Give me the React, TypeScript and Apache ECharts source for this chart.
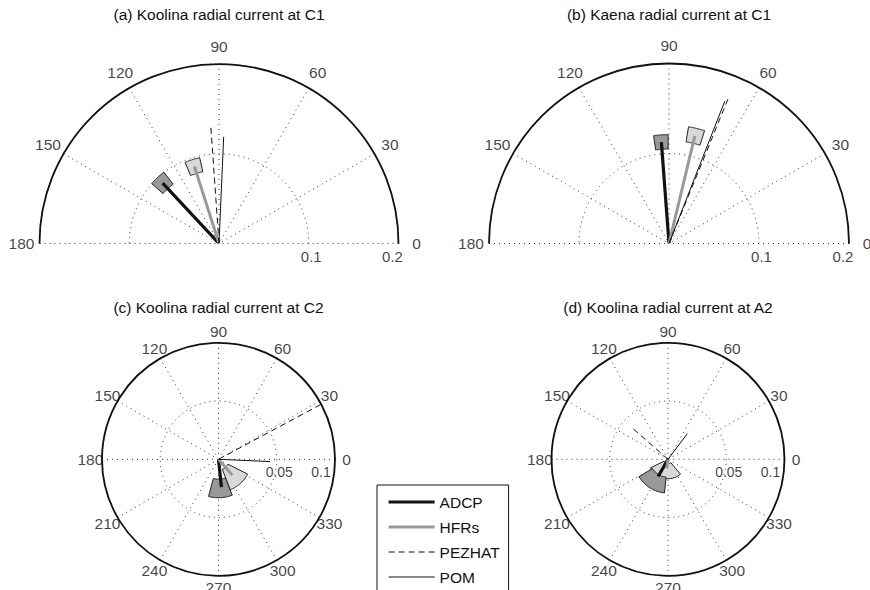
import React, { useEffect, useRef } from 'react';
import * as echarts from 'echarts';

const FONT = "'Liberation Sans', Arial, Helvetica, sans-serif";

// ---- data ----
const titles = [
  '(a) Koolina radial current at C1',
  '(b) Kaena radial current at C1',
  '(c) Koolina radial current at C2',
  '(d) Koolina radial current at A2',
];
const angleMax = [180, 180, 360, 360];
const radiusMax = [0.2, 0.2, 0.1, 0.1];
const radiusStep = [0.1, 0.1, 0.05, 0.05];
const angleTicksHalf = [0, 30, 60, 90, 120, 150, 180];
const angleTicksFull = [0, 30, 60, 90, 120, 150, 180, 210, 240, 270, 300, 330];
const radiusTicks = [
  [0.1, 0.2],
  [0.1, 0.2],
  [0.05, 0.1],
  [0.05, 0.1],
];
const legendNames = ['ADCP', 'HFRs', 'PEZHAT', 'POM'];

// direction (deg) and speed (m/s) of each vector, one value per panel
const adcpDir = [133, 94.3, 276, 240];
const adcpSpeed = [0.092, 0.113, 0.024, 0.017];
const hfrDir = [107.7, 76.5, 311, 262];
const hfrSpeed = [0.09, 0.123, 0.018, 0.008];
const pezhatDir = [94, 67.8, 28.2, 138.8];
const pezhatSpeed = [0.131, 0.176, 0.1, 0.04];
const pomDir = [87.5, 68.6, 357.5, 53];
const pomSpeed = [0.119, 0.17, 0.0443, 0.0275];

// error patches: centre direction, half-width (deg), centre speed, half-range
const adcpBoxDir = [133, 94.3, 273, 237.5];
const adcpBoxDirErr = [5.3, 3.8, 18, 26.5];
const adcpBoxSpeed = [0.092, 0.113, 0.025, 0.0222];
const adcpBoxSpeedErr = [0.0085, 0.008, 0.008, 0.0068];
const hfrBoxDir = [107.7, 76.5, 312, 258];
const hfrBoxDirErr = [5, 4, 21, 52];
const hfrBoxSpeed = [0.09, 0.123, 0.0186, 0.0102];
const hfrBoxSpeedErr = [0.008, 0.0085, 0.0094, 0.0065];
const darkBoxOnTop = [true, true, false, true];

// small open marker at the origin of panel (c)
const originMarkerPanels = [2];

// ---- layout ----
const layout = [
  { cx: 219, cy: 243.5, r: 179.5, ty: 6, tickFont: 15.5, radFont: 15, radDy: 13, outerDx: -6 },
  { cx: 669, cy: 243.5, r: 180, ty: 6, tickFont: 15.5, radFont: 15, radDy: 13, outerDx: -6 },
  { cx: 218.5, cy: 459.3, r: 116.5, ty: 299, tickFont: 15.5, radFont: 14, radDy: 12.5, outerDx: -14 },
  { cx: 668, cy: 459.3, r: 116.5, ty: 299, tickFont: 15.5, radFont: 14, radDy: 12.5, outerDx: -14 },
];

const GRID = { color: '#333', width: 1, type: [1, 4] as number[] };
const CLEAR = 'rgba(0,0,0,0)';

function sectorRender(fill: string) {
  return (params: any, api: any) => {
    const rc = api.value(0);
    const ac = api.value(1);
    const rh = api.value(2);
    const ah = api.value(3);
    const n = 20;
    const pts: number[][] = [];
    for (let i = 0; i <= n; i++) {
      const a = ac - ah + (2 * ah * i) / n;
      pts.push(api.coord([rc + rh, a]));
    }
    for (let i = n; i >= 0; i--) {
      const a = ac - ah + (2 * ah * i) / n;
      pts.push(api.coord([Math.max(0, rc - rh), a]));
    }
    return {
      type: 'polygon',
      shape: { points: pts },
      style: { fill, stroke: '#222', lineWidth: 1 },
    };
  };
}

export default function App() {
  const ref = useRef<HTMLDivElement>(null);
  useEffect(() => {
    const chart = echarts.init(ref.current!, null, { renderer: 'svg' });

    const polar: any[] = [];
    const angleAxis: any[] = [];
    const radiusAxis: any[] = [];
    const title: any[] = [];
    const series: any[] = [];

    layout.forEach((L, p) => {
      polar.push({ center: [L.cx, L.cy], radius: L.r });
      title.push({
        text: titles[p],
        left: L.cx,
        top: L.ty,
        textAlign: 'center',
        padding: 0,
        textStyle: { fontFamily: FONT, fontSize: 15.5, fontWeight: 'normal', color: '#111' },
      });
      const half = angleMax[p] === 180;
      angleAxis.push({
        polarIndex: p,
        type: 'value',
        min: 0,
        max: angleMax[p],
        interval: 30,
        startAngle: 0,
        ...(half ? { endAngle: 180 } : {}),
        clockwise: false,
        axisLine: { show: true, lineStyle: { color: '#111', width: 1.8 } },
        axisTick: { show: false },
        splitLine: { show: true, lineStyle: GRID },
        axisLabel: { show: false },
      });
      radiusAxis.push({
        polarIndex: p,
        type: 'value',
        min: 0,
        max: radiusMax[p],
        interval: radiusStep[p],
        axisLine: { show: false },
        axisTick: { show: false },
        splitLine: { show: true, lineStyle: GRID },
        axisLabel: { show: false },
      });

      // angle tick labels, centred at 1.1 x the outer radius
      const ticks = half ? angleTicksHalf : angleTicksFull;
      series.push({
        type: 'scatter',
        name: 'angle labels',
        coordinateSystem: 'polar',
        polarIndex: p,
        clip: false,
        silent: true,
        symbolSize: 1,
        itemStyle: { color: CLEAR },
        label: {
          show: true,
          position: 'inside',
          fontFamily: FONT,
          fontSize: L.tickFont,
          color: '#111',
          formatter: (d: any) => String(d.value[1]),
        },
        data: ticks.map((a) => [radiusMax[p] * 1.1, a]),
      });
      // radius tick labels below the 0 degree spoke
      const rt = radiusTicks[p];
      series.push({
        type: 'scatter',
        name: 'radius labels',
        coordinateSystem: 'polar',
        polarIndex: p,
        clip: false,
        silent: true,
        symbolSize: 1,
        itemStyle: { color: CLEAR },
        label: {
          show: true,
          position: 'inside',
          fontFamily: FONT,
          fontSize: L.radFont,
          color: '#111',
          formatter: (d: any) => String(d.value[0]),
        },
        data: rt.map((v, i) => ({
          value: [v, 0],
          label: { offset: [i === rt.length - 1 ? L.outerDx : 2.5, L.radDy] },
        })),
      });

      const adcpBox = {
        type: 'custom',
        name: 'ADCP error',
        coordinateSystem: 'polar',
        polarIndex: p,
        renderItem: sectorRender('#999999'),
        data: [[adcpBoxSpeed[p], adcpBoxDir[p], adcpBoxSpeedErr[p], adcpBoxDirErr[p]]],
        silent: true,
      };
      const hfrBox = {
        type: 'custom',
        name: 'HFRs error',
        coordinateSystem: 'polar',
        polarIndex: p,
        renderItem: sectorRender('#d8d8d8'),
        data: [[hfrBoxSpeed[p], hfrBoxDir[p], hfrBoxSpeedErr[p], hfrBoxDirErr[p]]],
        silent: true,
      };
      if (darkBoxOnTop[p]) series.push(hfrBox, adcpBox);
      else series.push(adcpBox, hfrBox);

      const vec = (name: string, dir: number, spd: number, lineStyle: any) => ({
        type: 'line',
        name,
        coordinateSystem: 'polar',
        polarIndex: p,
        symbol: 'none',
        showSymbol: false,
        itemStyle: { color: lineStyle.color },
        lineStyle,
        data: [[0, dir], [spd, dir]],
        silent: true,
      });
      series.push(vec('ADCP', adcpDir[p], adcpSpeed[p], { color: '#111', width: 3.2 }));
      series.push(vec('HFRs', hfrDir[p], hfrSpeed[p], { color: '#999', width: 3 }));
      series.push(vec('PEZHAT', pezhatDir[p], pezhatSpeed[p], { color: '#111', width: 1, type: [6, 4] }));
      series.push(vec('POM', pomDir[p], pomSpeed[p], { color: '#111', width: 1 }));

      if (originMarkerPanels.includes(p)) {
        series.push({
          type: 'scatter',
          name: 'origin',
          coordinateSystem: 'polar',
          polarIndex: p,
          silent: true,
          symbol: 'emptyCircle',
          symbolSize: 6,
          itemStyle: { color: '#fff', borderColor: '#333', borderWidth: 1 },
          data: [[0, 0]],
        });
      }
    });

    chart.setOption({
      animation: false,
      backgroundColor: '#fff',
      color: ['#111', '#999', '#111', '#111'],
      title,
      polar,
      angleAxis,
      radiusAxis,
      legend: {
        data: legendNames,
        orient: 'vertical',
        left: 377,
        top: 485,
        height: 110,
        padding: [9, 9, 12, 10],
        itemWidth: 46,
        itemHeight: 14,
        itemGap: 9,
        borderColor: '#111',
        borderWidth: 1,
        backgroundColor: '#fff',
        selectedMode: false,
        itemStyle: { opacity: 0 },
        lineStyle: { width: 'inherit' },
        textStyle: { fontFamily: FONT, fontSize: 15.5, color: '#111' },
      },
      series,
    });
    return () => chart.dispose();
  }, []);
  return (
    <div
      ref={ref}
      style={{ position: 'fixed', left: 0, top: 0, width: 870, height: 590, background: '#fff' }}
    />
  );
}
